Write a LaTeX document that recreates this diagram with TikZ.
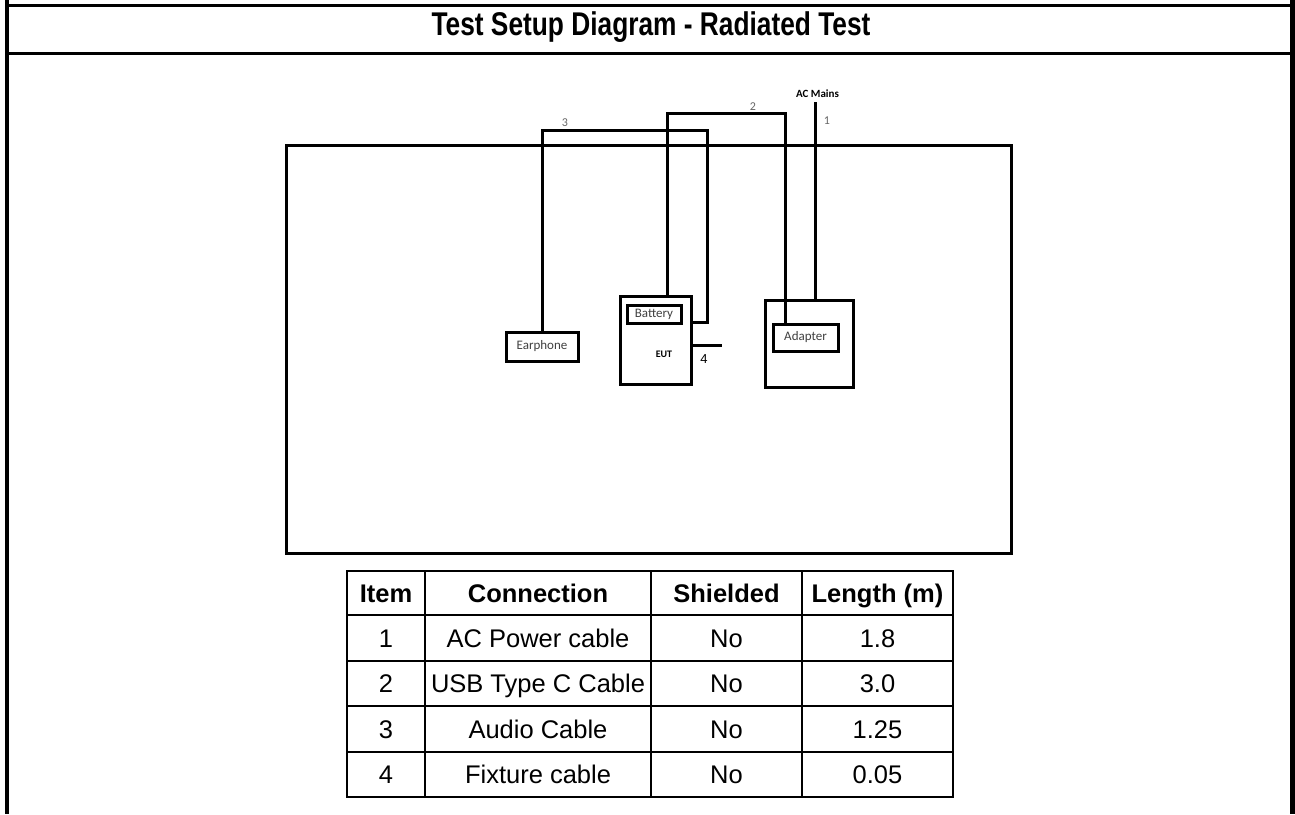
\documentclass[tikz,border=0pt]{standalone}
\usepackage{fontspec}
\setmainfont{Liberation Sans}
\newfontfamily\calfont{Carlito}
\begin{document}
\begin{tikzpicture}[x=1pt,y=-1pt,
  frame/.style={line width=3pt},
  cable/.style={line width=3pt},
  box/.style={draw,line width=3pt,inner sep=0pt,text height=8.5pt,text depth=2.5pt,font=\calfont\fontsize{13}{15}\selectfont,text=black!75},
  lbl/.style={font=\calfont\fontsize{12}{14}\selectfont,text=black!60,inner sep=0pt},
  cell/.style={draw,line width=2.2pt,inner sep=0pt,text height=18.3pt,text depth=0pt,font=\fontsize{25.5}{30}\selectfont},
  hcell/.style={cell,font=\bfseries\fontsize{25.5}{30}\selectfont}]
\useasboundingbox (0,0) rectangle (1295,814);
\fill[white] (0,0) rectangle (1295,814);
% page frame
\draw[line width=4pt] (7,0) -- (7,814);
\draw[line width=5pt] (1292.5,0) -- (1292.5,814);
\draw[frame] (7,5) -- (1292,5);
\draw[frame] (7,53) -- (1292,53);
\node (title) at (651,27) {\scalebox{1}[1.25]{\bfseries\fontsize{26.3}{30}\selectfont Test Setup Diagram - Radiated Test}};
% test area
\node[draw,line width=3pt,minimum width=725pt,minimum height=408pt,inner sep=0pt] (area) at (648.5,349) {};
% equipment
\node[box,minimum width=72pt,minimum height=29pt] (earphone) at (542,346.5) {Earphone};
\node[draw,line width=3pt,minimum width=71pt,minimum height=88pt,inner sep=0pt] (eut) at (655.5,340) {};
\node[box,minimum width=54pt,minimum height=18pt] (battery) at (654,314) {Battery};
\node[font=\calfont\bfseries\fontsize{10}{12}\selectfont,inner sep=0pt] (eutlbl) at (664,354) {EUT};
\node[draw,line width=3pt,minimum width=88pt,minimum height=87pt,inner sep=0pt] (adbox) at (809,343.5) {};
\node[box,minimum width=65pt,minimum height=27pt] (adapter) at (805.5,337.5) {Adapter};
% cables
\coordinate (mains) at (815,102);
\coordinate (fixend) at (722,345);
\draw[cable] (earphone.north) -- (542,130) -- (707,130) -- (707,322) -- (eut.east |- 0,322);
\draw[cable] (eut.north -| 667,0) -- (667,113) -- (785,113) -- (adapter.north -| 785,0);
\draw[cable] (mains) -- (adbox.north -| mains);
\draw[cable] (eut.east |- fixend) -- (fixend);
% labels
\node[font=\calfont\bfseries\fontsize{11}{13}\selectfont,inner sep=0pt] (acm) at (817.5,94) {AC Mains};
\node[lbl] (l1) at (827,121) {1};
\node[lbl] (l2) at (753,107) {2};
\node[lbl] (l3) at (565,123) {3};
\node[font=\fontsize{13}{15}\selectfont,inner sep=0pt] (l4) at (704,359) {4};
% table
\node[hcell,minimum width=78pt,minimum height=44pt] (h1) at (386,593) {Item};
\node[hcell,minimum width=226pt,minimum height=44pt] (h2) at (538,593) {Connection};
\node[hcell,minimum width=151pt,minimum height=44pt] (h3) at (726.5,593) {Shielded};
\node[hcell,minimum width=151pt,minimum height=44pt] (h4) at (877.5,593) {Length (m)};
\foreach \i/\y/\h/\a/\b/\c in {1/638/46/1/AC Power cable/1.8, 2/683.5/45/2/USB Type C Cable/3.0, 3/729/46/3/Audio Cable/1.25, 4/774.5/45/4/Fixture cable/0.05}{
  \node[cell,minimum width=78pt,minimum height=\h pt] (r\i c1) at (386,\y) {\a};
  \node[cell,minimum width=226pt,minimum height=\h pt] (r\i c2) at (538,\y) {\b};
  \node[cell,minimum width=151pt,minimum height=\h pt] (r\i c3) at (726.5,\y) {No};
  \node[cell,minimum width=151pt,minimum height=\h pt] (r\i c4) at (877.5,\y) {\c};
}
\end{tikzpicture}
\end{document}
